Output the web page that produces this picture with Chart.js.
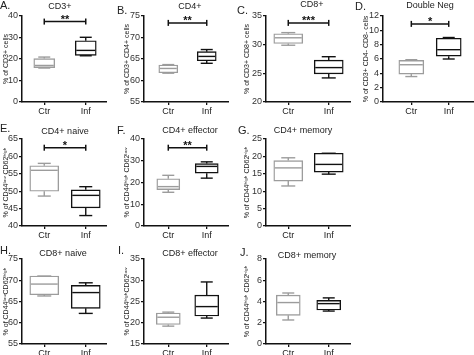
<!DOCTYPE html>
<html><head><meta charset="utf-8">
<script src="https://cdn.jsdelivr.net/npm/chart.js@4"></script>
<style>
html,body{margin:0;padding:0;background:#fff;width:474px;height:355px;overflow:hidden;position:relative;font-family:"Liberation Sans",Arial,sans-serif;}
canvas{position:absolute;}
.let{position:absolute;font-size:11px;color:#222;white-space:nowrap;transform:translate(0,-50%);}
.ttl{position:absolute;font-size:9px;color:#222;white-space:nowrap;transform:translate(-50%,-50%);}
</style></head><body>
<script>
// ---------- DATA ----------
const categories = ['Ctr', 'Inf'];
// box statistics: [min, q1, median, q3, max]
const A_ctr = [15.8, 16.0, 17.0, 20.2, 20.9];
const A_inf = [21.5, 21.7, 24.0, 28.5, 30.1];
const B_ctr = [61.7, 61.8, 62.8, 63.6, 63.7];
const B_inf = [64.0, 64.6, 65.6, 66.7, 67.2];
const C_ctr = [29.9, 30.2, 31.2, 31.9, 32.1];
const C_inf = [24.2, 24.9, 26.0, 27.3, 27.9];
const D_ctr = [3.55, 3.9, 5.2, 5.8, 5.9];
const D_inf = [6.0, 6.4, 7.3, 8.9, 9.0];
const E_ctr = [48.6, 50.0, 56.0, 57.3, 58.0];
const E_inf = [43.0, 45.2, 48.8, 50.4, 51.3];
const F_ctr = [15.5, 16.7, 18.1, 21.7, 23.3];
const F_inf = [22.0, 24.3, 27.4, 28.7, 29.5];
const G_ctr = [11.5, 12.9, 16.7, 18.8, 19.6];
const G_inf = [14.9, 15.5, 17.7, 20.9, 20.9];
const H_ctr = [66.3, 66.6, 69.1, 71.0, 71.0];
const H_inf = [62.2, 63.4, 67.1, 68.8, 69.4];
const I_ctr = [19.2, 19.6, 21.3, 22.3, 22.5];
const I_inf = [21.1, 21.6, 23.8, 26.5, 29.6];
const J_ctr = [2.26, 2.7, 3.9, 4.6, 4.8];
const J_inf = [3.1, 3.2, 3.8, 4.1, 4.34];

const panelLetters = ['A.', 'B.', 'C.', 'D.', 'E.', 'F.', 'G.', 'H.', 'I.', 'J.'];
const panelTitles = ['CD3+', 'CD4+', 'CD8+', 'Double Neg', 'CD4+ naive', 'CD4+ effector', 'CD4+ memory', 'CD8+ naive', 'CD8+ effector', 'CD8+ memory'];
const yAxisTitles = [
  '% of CD3+ cells',
  '% of CD3+ CD4+ cells',
  '% of CD3+ CD8+ cells',
  '% of CD3+ CD4- CD8- cells',
  '% of CD44\u02E1\u1D52\u02B7 CD62\u02B0\u2071\u1D4D\u02B0',
  '% of CD44\u02B0\u2071\u1D4D\u02B0 CD62\u02E1\u1D52\u02B7',
  '% of CD44\u02B0\u2071\u1D4D\u02B0 CD62\u02B0\u2071\u1D4D\u02B0',
  '% of CD44\u02E1\u1D52\u02B7CD62\u02B0\u2071\u1D4D\u02B0',
  '% of CD44\u02B0\u2071\u1D4D\u02B0CD62\u02E1\u1D52\u02B7',
  '% of CD44\u02B0\u2071\u1D4D\u02B0 CD62\u02B0\u2071\u1D4D\u02B0'
];
const yMins  = [0, 55, 20, 0, 40, 0, 0, 55, 15, 0];
const yMaxs  = [40, 75, 35, 12, 65, 40, 25, 75, 35, 8];
const ySteps = [5, 5, 5, 2, 5, 10, 5, 5, 5, 2];
const sigLevels = [37.4, 73.4, 33.8, 10.9, 62.5, 36, null, null, null, null];
const sigMarks  = ['**', '**', '***', '*', '*', '**', '', '', '', ''];

const panelStats = [
  [A_ctr, A_inf], [B_ctr, B_inf], [C_ctr, C_inf], [D_ctr, D_inf], [E_ctr, E_inf],
  [F_ctr, F_inf], [G_ctr, G_inf], [H_ctr, H_inf], [I_ctr, I_inf], [J_ctr, J_inf]
];

// ---------- LAYOUT / STYLE ----------
const boxColors = ['#9c9c9c', '#111111'];
const cols = {
  c1: {left: 0,   axis: 22,  ctr: 44,  inf: 85,  right: 106},
  c2: {left: 121, axis: 144, ctr: 168, inf: 206, right: 228},
  c3: {left: 241, axis: 266, ctr: 288, inf: 328, right: 350},
  c4: {left: 360, axis: 383, ctr: 411, inf: 448, right: 473}
};
const rows = [{top: 16, bottom: 102}, {top: 139, bottom: 226}, {top: 259, bottom: 344}];
const panelLayout = [
  {col: 'c1', row: 0, box: 21, cap: 12, letter: [0, 5],    title: [60, 6]},
  {col: 'c2', row: 0, box: 19, cap: 12, letter: [117, 10], title: [190, 6]},
  {col: 'c3', row: 0, box: 29, cap: 14, letter: [237, 10], title: [312, 4]},
  {col: 'c4', row: 0, box: 25, cap: 12, letter: [355, 6],  title: [430, 5]},
  {col: 'c1', row: 1, box: 29, cap: 13, letter: [0, 128],  title: [65, 131]},
  {col: 'c2', row: 1, box: 23, cap: 12, letter: [117, 130], title: [190, 130]},
  {col: 'c3', row: 1, box: 29, cap: 14, letter: [238, 130], title: [303, 130]},
  {col: 'c1', row: 2, box: 29, cap: 14, letter: [0, 250],  title: [63, 253]},
  {col: 'c2', row: 2, box: 24, cap: 12, letter: [118, 250], title: [190, 253]},
  {col: 'c3', row: 2, box: 24, cap: 12, letter: [240, 252], title: [307, 255]}
];

Chart.defaults.font.family = '"Liberation Sans", Arial, sans-serif';

const boxPlugin = {
  id: 'boxExtras',
  afterDatasetsDraw(chart, args, opts) {
    const {ctx} = chart;
    const y = chart.scales.y;
    const meta = chart.getDatasetMeta(0);
    const stats = chart.data.datasets[0].stats;
    ctx.save();
    ctx.lineWidth = 1.4;
    stats.forEach((s, i) => {
      const bar = meta.data[i];
      const cx = bar.x, half = bar.width / 2, ch = opts.cap / 2;
      ctx.strokeStyle = boxColors[i];
      const seg = (x1, y1, x2, y2) => { ctx.beginPath(); ctx.moveTo(x1, y1); ctx.lineTo(x2, y2); ctx.stroke(); };
      const pMin = y.getPixelForValue(s[0]), pQ1 = y.getPixelForValue(s[1]);
      const pMed = y.getPixelForValue(s[2]), pQ3 = y.getPixelForValue(s[3]);
      const pMax = y.getPixelForValue(s[4]);
      seg(cx, pMax, cx, pQ3);
      seg(cx, pQ1, cx, pMin);
      seg(cx - ch, pMax, cx + ch, pMax);
      seg(cx - ch, pMin, cx + ch, pMin);
      seg(cx - half + 1, pMed, cx + half - 1, pMed);
    });
    if (opts.sig !== null && opts.sig !== undefined) {
      const x1 = meta.data[0].x, x2 = meta.data[1].x;
      const py = y.getPixelForValue(opts.sig);
      ctx.strokeStyle = '#111';
      ctx.lineWidth = 1.5;
      ctx.beginPath(); ctx.moveTo(x1, py); ctx.lineTo(x2, py); ctx.stroke();
      ctx.beginPath(); ctx.moveTo(x1, py - 3); ctx.lineTo(x1, py + 3); ctx.stroke();
      ctx.beginPath(); ctx.moveTo(x2, py - 3); ctx.lineTo(x2, py + 3); ctx.stroke();
      ctx.fillStyle = '#111';
      ctx.font = 'bold 11px "Liberation Sans", Arial, sans-serif';
      ctx.textAlign = 'center';
      ctx.textBaseline = 'alphabetic';
      ctx.fillText(opts.mark, (x1 + x2) / 2, py + 1);
    }
    ctx.restore();
  }
};

panelLayout.forEach((L, i) => {
  const col = cols[L.col], row = rows[L.row];
  const padTop = 8, xH = 16;
  const cLeft = col.left, cTop = row.top - padTop;
  const cW = col.right - cLeft + 1, cH = row.bottom + xH - cTop;
  const canvas = document.createElement('canvas');
  canvas.width = cW; canvas.height = cH;
  canvas.style.left = cLeft + 'px'; canvas.style.top = cTop + 'px';
  canvas.style.width = cW + 'px'; canvas.style.height = cH + 'px';
  document.body.appendChild(canvas);

  const let_ = document.createElement('div');
  let_.className = 'let'; let_.textContent = panelLetters[i];
  let_.style.left = L.letter[0] + 'px'; let_.style.top = L.letter[1] + 'px';
  document.body.appendChild(let_);
  const t = document.createElement('div');
  t.className = 'ttl'; t.textContent = panelTitles[i];
  t.style.left = L.title[0] + 'px'; t.style.top = L.title[1] + 'px';
  document.body.appendChild(t);

  const unit = col.inf - col.ctr;
  const xMin = 1 - (col.ctr - col.axis) / unit;
  const xMax = 2 + (col.right - col.inf) / unit;
  const stats = panelStats[i];
  const yW = col.axis - cLeft;

  new Chart(canvas, {
    type: 'bar',
    data: {
      datasets: [{
        data: stats.map((s, k) => ({x: k + 1, y: [s[1], s[3]]})),
        stats: stats,
        backgroundColor: '#ffffff',
        borderColor: boxColors,
        borderWidth: 1.4,
        borderSkipped: false,
        barThickness: L.box
      }]
    },
    options: {
      responsive: false,
      animation: false,
      events: [],
      layout: {padding: {top: padTop, left: 0, right: 0, bottom: 0}},
      plugins: {
        legend: {display: false},
        tooltip: {enabled: false},
        boxExtras: {sig: sigLevels[i], mark: sigMarks[i], cap: L.cap}
      },
      scales: {
        x: {
          type: 'linear', min: xMin, max: xMax, offset: false,
          grid: {display: true, drawOnChartArea: false, tickLength: 3, color: '#111', lineWidth: 1.3, offset: false},
          border: {display: true, color: '#111', width: 1.5},
          ticks: {autoSkip: false, padding: 1, maxRotation: 0, font: {size: 9}, color: '#222',
                  callback: v => categories[Math.round(v) - 1]},
          afterBuildTicks: s => { s.ticks = [{value: 1}, {value: 2}]; },
          afterFit: s => { s.height = xH; }
        },
        y: {
          min: yMins[i], max: yMaxs[i],
          grid: {display: true, drawOnChartArea: false, tickLength: 3, color: '#111', lineWidth: 1.3},
          border: {display: true, color: '#111', width: 1.5},
          ticks: {stepSize: ySteps[i], padding: 1, font: {size: 9}, color: '#333'},
          title: {display: true, text: yAxisTitles[i], font: {size: 7}, color: '#222', padding: {top: 2, bottom: 0}},
          afterFit: s => { s.width = yW; }
        }
      }
    },
    plugins: [boxPlugin]
  });
});
</script>
</body></html>
